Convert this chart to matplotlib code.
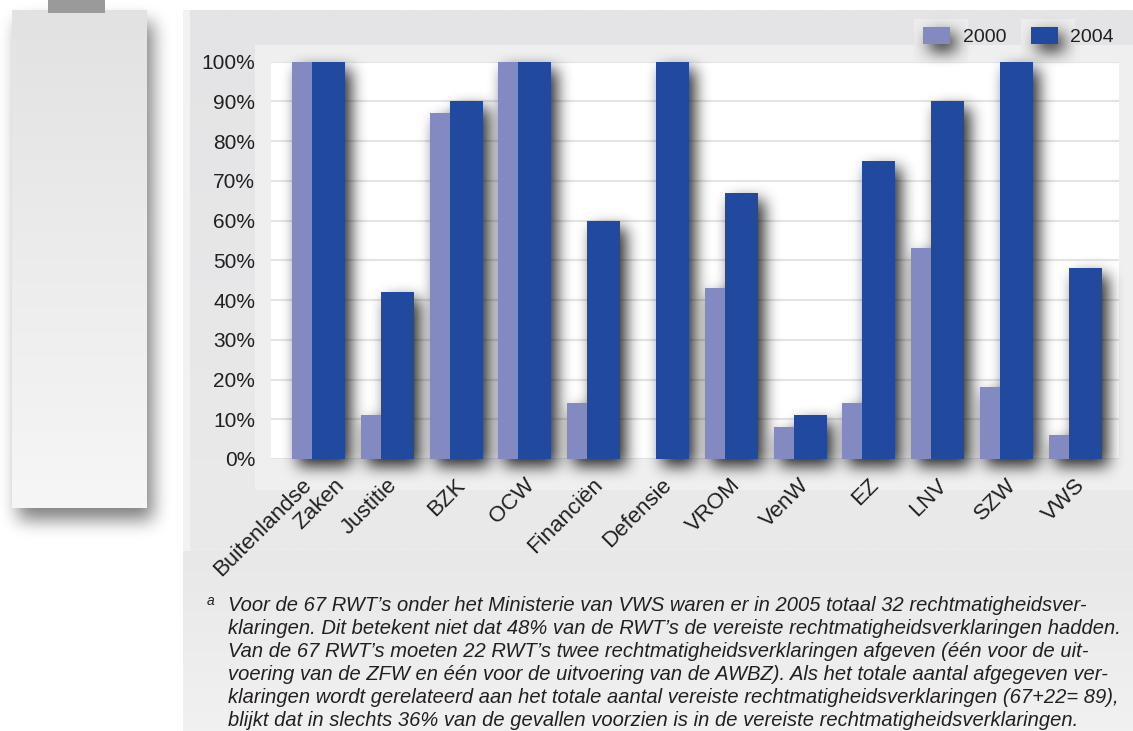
import numpy as np
import matplotlib
matplotlib.use("Agg")
import matplotlib.pyplot as plt
from matplotlib.patches import Rectangle
from matplotlib.transforms import blended_transform_factory, offset_copy

# ---------------- data ----------------
categories = ["Buitenlandse\nZaken", "Justitie", "BZK", "OCW", "Financiën", "Defensie",
              "VROM", "VenW", "EZ", "LNV", "SZW", "VWS"]
values_2000 = [100, 11, 87, 100, 14, 0, 43, 8, 14, 53, 18, 6]
values_2004 = [100, 42, 90, 100, 60, 100, 67, 11, 75, 90, 100, 48]
series_labels = ["2000", "2004"]
ytick_values = [0, 10, 20, 30, 40, 50, 60, 70, 80, 90, 100]
ytick_labels = [f"{v}%" for v in ytick_values]
footnote_marker = "a"
footnote_lines = [
    "Voor de 67 RWT\u2019s onder het Ministerie van VWS waren er in 2005 totaal 32 rechtmatigheidsver-",
    "klaringen. Dit betekent niet dat 48% van de RWT\u2019s de vereiste rechtmatigheidsverklaringen hadden.",
    "Van de 67 RWT\u2019s moeten 22 RWT\u2019s twee rechtmatigheidsverklaringen afgeven (één voor de uit-",
    "voering van de ZFW en één voor de uitvoering van de AWBZ). Als het totale aantal afgegeven ver-",
    "klaringen wordt gerelateerd aan het totale aantal vereiste rechtmatigheidsverklaringen (67+22= 89),",
    "blijkt dat in slechts 36% van de gevallen voorzien is in de vereiste rechtmatigheidsverklaringen.",
]

# ---------------- style ----------------
W, H = 1133, 731
C2000 = "#8389c1"
C2004 = "#21499e"
TXT = "#231f20"
FONT = "Liberation Sans"
plt.rcParams["font.family"] = [FONT, "DejaVu Sans"]


def box_blur(a, r, axis):
    a = np.moveaxis(a, axis, -1)
    pad = np.pad(a, [(0, 0)] * (a.ndim - 1) + [(r + 1, r)], mode="constant")
    c = np.cumsum(pad, axis=-1)
    out = (c[..., 2 * r + 1:] - c[..., :-(2 * r + 1)]) / (2 * r + 1)
    return np.moveaxis(out, -1, axis)


def blur(a, r, passes=3):
    for _ in range(passes):
        a = box_blur(a, r, 0)
        a = box_blur(a, r, 1)
    return a


def shadow_rgba(rects, dx, dy, r, alpha):
    """rects in display pixel coords (x0, y0, x1, y1), origin bottom-left."""
    m = np.zeros((H, W))
    for x0, y0, x1, y1 in rects:
        xa, xb = int(round(min(x0, x1) + dx)), int(round(max(x0, x1) + dx))
        ya, yb = int(round(min(y0, y1) - dy)), int(round(max(y0, y1) - dy))
        m[max(ya, 0):max(yb, 0), max(xa, 0):max(xb, 0)] = 1.0
    m = blur(m, r)
    img = np.zeros((H, W, 4))
    img[..., 3] = np.clip(m * alpha, 0, 1)
    return img


fig = plt.figure(figsize=(W / 100, H / 100), dpi=100)
fig.patch.set_facecolor("white")

# ---------------- background (pixel coords, y downward) ----------------
bg = fig.add_axes([0, 0, 1, 1], zorder=-5)
bg.set_xlim(0, W)
bg.set_ylim(H, 0)
bg.axis("off")


def grad(ax, x0, y0, x1, y1, c_top, c_bot, z):
    ct = np.array(matplotlib.colors.to_rgb(c_top))
    cb = np.array(matplotlib.colors.to_rgb(c_bot))
    t = np.linspace(0, 1, 64)[:, None, None]
    arr = ct[None, None, :] * (1 - t) + cb[None, None, :] * t
    ax.imshow(arr, extent=(x0, x1, y1, y0), aspect="auto", zorder=z, interpolation="bilinear")


# left decorative panel with shadow
lp = (12, 10, 147, 508)
simg = shadow_rgba([(lp[0], H - lp[3], lp[2], H - lp[1])], 6, 12, 8, 0.5)
bg.imshow(simg[::-1], extent=(0, W, H, 0), aspect="auto", zorder=1, interpolation="nearest")
grad(bg, *lp, "#e2e2e2", "#f6f6f6", 2)
bg.add_patch(Rectangle((48, 0), 57, 13, facecolor="#9a9a9a", edgecolor="none", zorder=3))

# right panel
grad(bg, 183, 10, W, H, "#e4e4e6", "#ececec", 2)
grad(bg, 183, 551, W, H, "#e8e8e8", "#f1f1f1", 2.1)
bg.add_patch(Rectangle((183, 10), 7, 541, facecolor="#f2f2f2", edgecolor="none", zorder=3))
bg.add_patch(Rectangle((255, 45), W - 255, 445, facecolor="#efefef", edgecolor="none", zorder=3))
# light patches behind legend entries
bg.add_patch(Rectangle((914, 19), 54, 42, facecolor="#ececec", edgecolor="none", zorder=3.1))
bg.add_patch(Rectangle((1021, 19), 54, 42, facecolor="#ececec", edgecolor="none", zorder=3.1))

# ---------------- main axes ----------------
ax_l, ax_r, ax_t, ax_b = 271, 1119, 61.7, 459
ax = fig.add_axes([ax_l / W, 1 - ax_b / H, (ax_r - ax_l) / W, (ax_b - ax_t) / H])
ax.set_facecolor("white")
for s in ax.spines.values():
    s.set_visible(False)

x = np.arange(len(categories))
bw = 0.48
off = 0.145
XL = (-0.69, 11.635)

ax.set_axisbelow(True)
ax.yaxis.grid(True, color="#e4e4e4", linewidth=1.6)
ax.xaxis.grid(False)

b0 = ax.bar(x - off, values_2000, bw, color=C2000, label=series_labels[0], zorder=2, linewidth=0)
b1 = ax.bar(x + off, values_2004, bw, color=C2004, label=series_labels[1], zorder=3, linewidth=0)

ax.set_xlim(*XL)
ax.set_ylim(0, 100)
ax.set_yticks(ytick_values, ytick_labels)
ax.set_xticks([])
ax.tick_params(axis="y", length=0, pad=11.5, labelsize=15, labelcolor=TXT)

# category labels (rotated)
trans = blended_transform_factory(ax.transData, ax.transAxes)
line_sp = 23.0  # px between lines
for i, lab in enumerate(categories):
    parts = lab.split("\n")
    n = len(parts)
    for k, p in enumerate(parts):
        dxp = -2 + (k - (n - 1) / 2) * line_sp * 1.414
        t = offset_copy(trans, fig=fig, x=dxp, y=-23, units="dots")
        ax.text(x[i] + 0.12, 0, p, transform=t, rotation=45, rotation_mode="anchor",
                ha="right", va="center", fontsize=16, color=TXT)

# legend
leg = fig.legend(handles=[b0, b1], labels=series_labels, loc="center right",
                 bbox_to_anchor=(1114 / W, 1 - 36.5 / H), ncol=2, frameon=False,
                 fontsize=14, handlelength=1.4, handleheight=0.95, handletextpad=0.65,
                 columnspacing=1.25, borderpad=0, borderaxespad=0, labelcolor=TXT)

# ---------------- footnote ----------------
fig.text(207 / W, 1 - 605 / H, footnote_marker, fontsize=10, color=TXT, ha="left", va="baseline",
         style="italic")
for j, line in enumerate(footnote_lines):
    fig.text(228 / W, 1 - (611 + j * 23.0) / H, line, fontsize=14.5, style="italic",
             color=TXT, ha="left", va="baseline")

# ---------------- drop shadows for bars and legend keys ----------------
fig.canvas.draw()
rects = []
for bc in (b0, b1):
    for p in bc.patches:
        if p.get_height() <= 0:
            continue
        bb = p.get_window_extent()
        rects.append((bb.x0, bb.y0, bb.x1, bb.y1))
srects = list(rects)
for h in leg.legend_handles:
    bb = h.get_window_extent()
    srects.append((bb.x0, bb.y0, bb.x1, bb.y1))
img = shadow_rgba(srects, 6, 7, 7, 0.85)
inv = ax.transData.inverted()
(ex0, ey0) = inv.transform((0, 0))
(ex1, ey1) = inv.transform((W, H))
im = ax.imshow(img, extent=(ex0, ex1, ey0, ey1), origin="lower", aspect="auto",
               zorder=1.5, interpolation="nearest")
im.set_clip_on(False)
ax.set_xlim(*XL)
ax.set_ylim(0, 100)

fig.savefig("out.png", dpi=100)
